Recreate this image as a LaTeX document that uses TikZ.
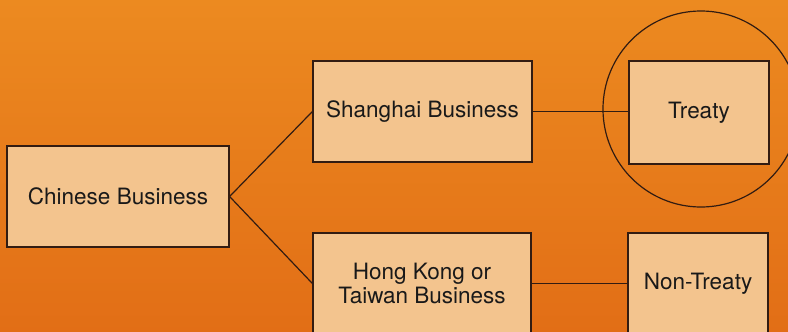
\documentclass[tikz,border=0pt]{standalone}
\usepackage{fontspec}
\setmainfont{TeX Gyre Heros}
\definecolor{bgtop}{RGB}{236,138,32}
\definecolor{bgbot}{RGB}{226,110,22}
\definecolor{boxfill}{RGB}{243,196,142}
\definecolor{ink}{RGB}{50,28,18}
\tikzset{
  bizbox/.style={draw=ink, line width=1.2pt, fill=boxfill, inner sep=0pt, align=center,
    font=\fontsize{22.5}{24}\selectfont, text=black!90},
  link/.style={draw=ink, line width=1.2pt}
}
\begin{document}
\begin{tikzpicture}[x=1pt,y=-1pt]
\useasboundingbox (0,0) rectangle (788,332);
\clip (0,0) rectangle (788,332);
\shade[top color=bgtop, bottom color=bgbot] (0,0) rectangle (788,332);
\coordinate (cc) at (701,109);
\draw[link] (cc) circle[radius=98];
\node[bizbox, minimum width=222pt, minimum height=101pt] (chinese) at (118,196.5) {Chinese Business};
\node[bizbox, minimum width=219pt, minimum height=101pt] (shanghai) at (422.5,111.5) {Shanghai Business};
\node[bizbox, minimum width=140pt, minimum height=103pt] (treaty) at (699,112.5) {Treaty};
\node[bizbox, minimum width=218pt, minimum height=101pt] (hk) at (422,283.5) {Hong Kong or\\Taiwan Business};
\node[bizbox, minimum width=140pt, minimum height=101pt] (nontreaty) at (698,283.5) {Non-Treaty};
\draw[link] (chinese.east) -- (shanghai.west);
\draw[link] (chinese.east) -- (hk.west);
\draw[link] (shanghai.east) -- (treaty.west |- shanghai.east);
\draw[link] (hk.east) -- (nontreaty.west);
\end{tikzpicture}
\end{document}
